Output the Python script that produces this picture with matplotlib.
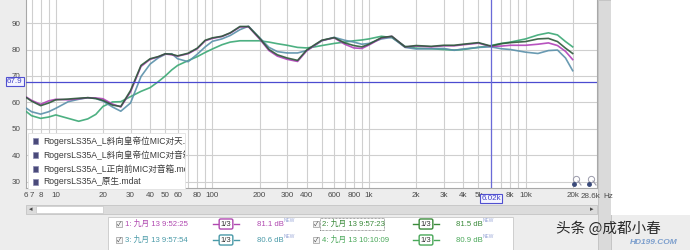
import numpy as np
import matplotlib
matplotlib.use('Agg')
import matplotlib.pyplot as plt
from matplotlib.patches import Rectangle
from matplotlib.lines import Line2D
from matplotlib.transforms import blended_transform_factory

plt.rcParams['font.family'] = ['Liberation Sans', 'Noto Sans CJK SC', 'DejaVu Sans']

# frequency grid (Hz) and the four measured responses (dB)
freq = [6.5, 7, 8, 9, 10, 12, 14, 16, 18, 20, 23, 26, 30, 35, 40, 45, 50, 55, 60, 70,
        80, 90, 100, 115, 130, 150, 170, 200, 230, 260, 300, 350, 400, 450, 500, 600,
        700, 800, 900, 1000, 1200, 1400, 1700, 2000, 2500, 3000, 3500, 4000, 5000,
        6000, 7000, 8000, 10000, 12000, 14000, 16000, 18000, 20000]

spl_1 = [62.0, 60.8, 59.3, 60.6, 61.2, 61.0, 61.4, 61.8, 61.7, 61.4, 59.4, 58.3, 64.0,
         73.6, 76.3, 77.2, 78.3, 78.0, 77.5, 78.4, 80.3, 83.3, 84.2, 84.9, 86.2, 88.5,
         88.6, 84.0, 79.6, 77.5, 76.3, 75.5, 79.5, 81.6, 83.4, 84.4, 82.0, 80.6, 80.4,
         81.7, 84.3, 85.0, 81.0, 81.3, 81.0, 81.4, 81.4, 81.8, 82.4, 81.2, 81.3, 81.6,
         81.6, 82.0, 82.5, 81.5, 79.3, 76.2]
spl_2 = [61.8, 60.5, 58.8, 59.8, 61.0, 61.3, 61.6, 61.8, 61.5, 60.8, 59.0, 58.5, 64.5,
         74.0, 76.5, 77.3, 78.4, 78.2, 77.6, 78.6, 80.5, 83.5, 84.4, 85.0, 86.3, 88.7,
         88.7, 84.3, 80.0, 78.0, 76.8, 75.9, 79.8, 81.8, 83.5, 84.5, 82.5, 81.5, 81.0,
         82.0, 84.5, 85.0, 81.0, 81.5, 81.2, 81.6, 81.6, 82.0, 82.6, 81.3, 82.2, 82.6,
         83.0, 84.0, 84.2, 83.0, 80.5, 78.5]
spl_3 = [57.8, 56.5, 55.6, 56.5, 57.8, 60.3, 61.2, 61.8, 61.5, 60.5, 58.3, 56.7, 59.8,
         69.8, 74.5, 76.8, 78.2, 78.4, 76.5, 75.4, 78.2, 81.0, 83.1, 84.0, 85.3, 87.5,
         88.8, 84.5, 80.8, 79.2, 78.7, 78.7, 79.6, 81.5, 83.3, 84.6, 83.5, 82.8, 82.0,
         82.3, 84.0, 84.6, 80.8, 80.2, 80.3, 80.4, 79.7, 80.2, 80.8, 81.0, 80.3, 80.0,
         79.0, 78.5, 79.6, 79.8, 76.8, 72.0]
spl_4 = [56.5, 55.0, 54.0, 54.5, 55.3, 54.0, 52.9, 53.8, 55.5, 58.5, 60.2, 60.3, 62.2,
         64.2, 65.6, 67.8, 70.0, 72.3, 74.0, 75.8, 77.3, 78.9, 80.2, 81.8, 82.8, 83.3,
         83.3, 83.3, 82.8, 82.2, 81.6, 80.8, 80.6, 81.0, 81.5, 82.3, 82.8, 83.3, 83.6,
         84.0, 85.0, 84.5, 81.2, 80.5, 80.3, 80.0, 79.8, 80.0, 80.8, 81.5, 82.3, 82.8,
         84.0, 85.5, 86.3, 85.5, 83.0, 81.0]

colors = ['#b040b8', '#2d5a3a', '#5a90aa', '#3aa874']
file_names = ['RogersLS35A_L斜向皇帝位MIC对天.m', 'RogersLS35A_L斜向皇帝位MIC对音箱',
              'RogersLS35A_L正向前MIC对音箱.mda', 'RogersLS35A_原生.mdat']
trace_names = ['1: 九月 13 9:52:25', '2: 九月 13 9:57:23',
               '3: 九月 13 9:57:54', '4: 九月 13 10:10:09']
trace_levels = ['81.1 dB', '81.5 dB', '80.6 dB', '80.9 dB']
text_colors = ['#b048b0', '#3a8a3a', '#4a9aa8', '#4aa85a']

x_ticks = [6.45, 7, 8, 10, 20, 30, 40, 50, 60, 80, 100, 200, 300, 400, 600, 800,
           1000, 2000, 3000, 4000, 5000, 8000, 10000, 20000]
x_labels = ['6', '7', '8', '10', '20', '30', '40', '50', '60', '80', '100', '200', '300',
            '400', '600', '800', '1k', '2k', '3k', '4k', '5k', '8k', '10k', '20k']
y_ticks = [30, 40, 50, 60, 70, 80, 90]
cursor_db = 67.9
cursor_hz = 6020

W, H = 690, 250


def fx(x):
    return x / W


def fy(y):
    return 1 - y / H


fig = plt.figure(figsize=(W / 100, H / 100), dpi=100, facecolor='#ededed')

# right-hand window strip and blank area (behind the axes labels)
fig.patches.append(Rectangle((fx(598), fy(250)), 13 / W, 250 / H, transform=fig.transFigure,
                             fc='#dadada', ec='#c0c0c0', lw=0.6, zorder=-2))
fig.patches.append(Rectangle((fx(611), fy(215)), 79 / W, 215 / H, transform=fig.transFigure,
                             fc='white', ec='none', zorder=-2))

ax = fig.add_axes([fx(26), fy(188), (597 - 26) / W, 188 / H])
ax.set_facecolor('white')
ax.set_xscale('log')
ax.set_xlim(6.45, 28600)
ax.set_ylim(27.7, 98.7)

# grid: every 1..9 multiple in each decade
vgrid = [m * 10 ** d for d in range(0, 5) for m in range(1, 10)]
vgrid = [v for v in vgrid if 6.5 < v < 28600]
for v in vgrid:
    ax.axvline(v, color='#cfcfcf', lw=0.8, zorder=0)
for v in y_ticks:
    ax.axhline(v, color='#cfcfcf', lw=0.8, zorder=0)

for s, c in zip([spl_4, spl_3, spl_1, spl_2], [colors[3], colors[2], colors[0], colors[1]]):
    ax.plot(freq, s, color=c, lw=1.2, alpha=0.9, solid_joinstyle='round', zorder=3)

# cursors
ax.axhline(cursor_db, color='#4b4bd0', lw=0.9, zorder=4)
ax.axvline(cursor_hz, color='#6a6ad8', lw=0.9, zorder=4)

ax.set_xticks(x_ticks)
ax.set_xticklabels(x_labels)
ax.set_yticks(y_ticks)
ax.set_yticklabels([str(v) for v in y_ticks])
ax.xaxis.set_minor_locator(matplotlib.ticker.NullLocator())
ax.tick_params(axis='both', length=0, labelsize=5.8, colors='#4a4a4a', pad=3)
ax.tick_params(axis='y', pad=4)
for sp in ax.spines.values():
    sp.set_color('#a8a8a8')
    sp.set_linewidth(0.8)
ax.spines['top'].set_visible(False)

bt = blended_transform_factory(ax.transAxes, ax.transData)
ax.text(-0.006, cursor_db, '67.9', transform=bt, ha='right', va='center', fontsize=5.8,
        color='#4040c8', zorder=6, clip_on=False,
        bbox=dict(boxstyle='square,pad=0.15', fc='#f4f4ff', ec='#5050d0', lw=0.8))
bx = blended_transform_factory(ax.transData, ax.transAxes)
ax.text(cursor_hz, -0.055, '6.02k', transform=bx, ha='center', va='center', fontsize=5.8,
        color='#4040c8', zorder=6, clip_on=False,
        bbox=dict(boxstyle='square,pad=0.15', fc='#f4f4ff', ec='#5050d0', lw=0.8))
fig.text(fx(590), fy(196.5), '28.6k', fontsize=5.8, color='#4a4a4a', ha='center', va='center')
fig.text(fx(603), fy(196.5), 'Hz', fontsize=5.8, color='#4a4a4a', va='center')

# file legend inside plot, names clipped at the box edge
legend_box = Rectangle((0.003, -0.004), 0.275, 0.297, transform=ax.transAxes,
                       fc='white', ec='#e2e2e2', lw=0.6, zorder=5, clip_on=False)
ax.add_patch(legend_box)
for i, name in enumerate(file_names):
    y = [141, 155, 169, 182][i]
    fig.patches.append(Rectangle((fx(33), fy(y + 3)), 5 / W, 6 / H, transform=fig.transFigure,
                                 fc='#4a4a7a', ec='#8a8ab0', lw=0.5, zorder=6))
    t = fig.text(fx(43), fy(y), name, fontsize=6.2, color='#3a3a3a', va='center', zorder=7)
    t.set_clip_path(legend_box)

# zoom icons bottom right
for x0 in [574, 589]:
    fig.add_artist(Line2D([fx(x0 + 2)], [fy(179)], marker='o', ms=4.5, mfc='none',
                          mec='#9a9aaa', mew=0.7))
    fig.add_artist(Line2D([fx(x0 + 4), fx(x0 + 7)], [fy(181), fy(185)], color='#9a9aaa',
                          lw=0.8))
    fig.add_artist(Line2D([fx(x0)], [fy(184)], marker='o', ms=2.5, mfc='#3a4a7a',
                          mec='#3a4a7a'))

# scrollbar
fig.patches.append(Rectangle((fx(26), fy(214)), 571 / W, 9 / H, transform=fig.transFigure,
                             fc='#dcdcdc', ec='#c4c4c4', lw=0.6))
fig.patches.append(Rectangle((fx(36), fy(213)), 67 / W, 7 / H, transform=fig.transFigure,
                             fc='white', ec='#c8c8c8', lw=0.5))
fig.text(fx(31), fy(209.5), '◂', fontsize=5, color='#444', ha='center', va='center')
fig.text(fx(592), fy(209.5), '▸', fontsize=5, color='#444', ha='center', va='center')

# trace panel
fig.patches.append(Rectangle((fx(108), fy(250)), 405 / W, 33 / H, transform=fig.transFigure,
                             fc='white', ec='#c8c8c8', lw=0.6))
rows = [224, 240]
cols = [116, 313]
icon_x = [226, 426]
lvl_x = [257, 456]
for i in range(4):
    r, c = i // 2, i % 2
    y = rows[r]
    col = text_colors[i]
    fig.patches.append(Rectangle((fx(cols[c]), fy(y + 3)), 6 / W, 6 / H,
                                 transform=fig.transFigure, fc='#f4f4f4', ec='#9a9a9a', lw=0.5))
    fig.text(fx(cols[c] + 1), fy(y), '✓', fontsize=4.5, color='#333', va='center')
    fig.text(fx(cols[c] + 9), fy(y), trace_names[i], fontsize=5.6, color=col, va='center')
    fig.text(fx(icon_x[c]), fy(y), '1/3', fontsize=5.5, color='#333', ha='center', va='center',
             bbox=dict(boxstyle='round,pad=0.2', fc='white', ec=col, lw=1.0))
    fig.add_artist(Line2D([fx(icon_x[c] - 13), fx(icon_x[c] - 8)], [fy(y), fy(y)],
                          color=col, lw=1.0))
    fig.add_artist(Line2D([fx(icon_x[c] + 8), fx(icon_x[c] + 13)], [fy(y), fy(y)],
                          color=col, lw=1.0))
    fig.text(fx(lvl_x[c]), fy(y), trace_levels[i], fontsize=5.6, color=col, va='center')
    fig.text(fx(lvl_x[c] + 27), fy(y - 3), 'NEW', fontsize=3.5, color='#9aa8d8', va='center')
# dotted focus box around trace 2
fig.patches.append(Rectangle((fx(320), fy(230)), 64 / W, 12 / H, transform=fig.transFigure,
                             fc='none', ec='#555', lw=0.5, ls=(0, (1, 1))))

# watermark
fig.text(fx(630), fy(242), 'HD199.COM', fontsize=6, color='#4f7fc0', ha='left', va='center',
         weight='bold', style='italic', alpha=0.7)
fig.text(fx(556), fy(229), '头条 @成都小春', fontsize=10.5, color='#2a2a2a', va='center',
         family=['Noto Sans CJK SC', 'DejaVu Sans'])

fig.savefig('out.png', dpi=100, facecolor=fig.get_facecolor())
